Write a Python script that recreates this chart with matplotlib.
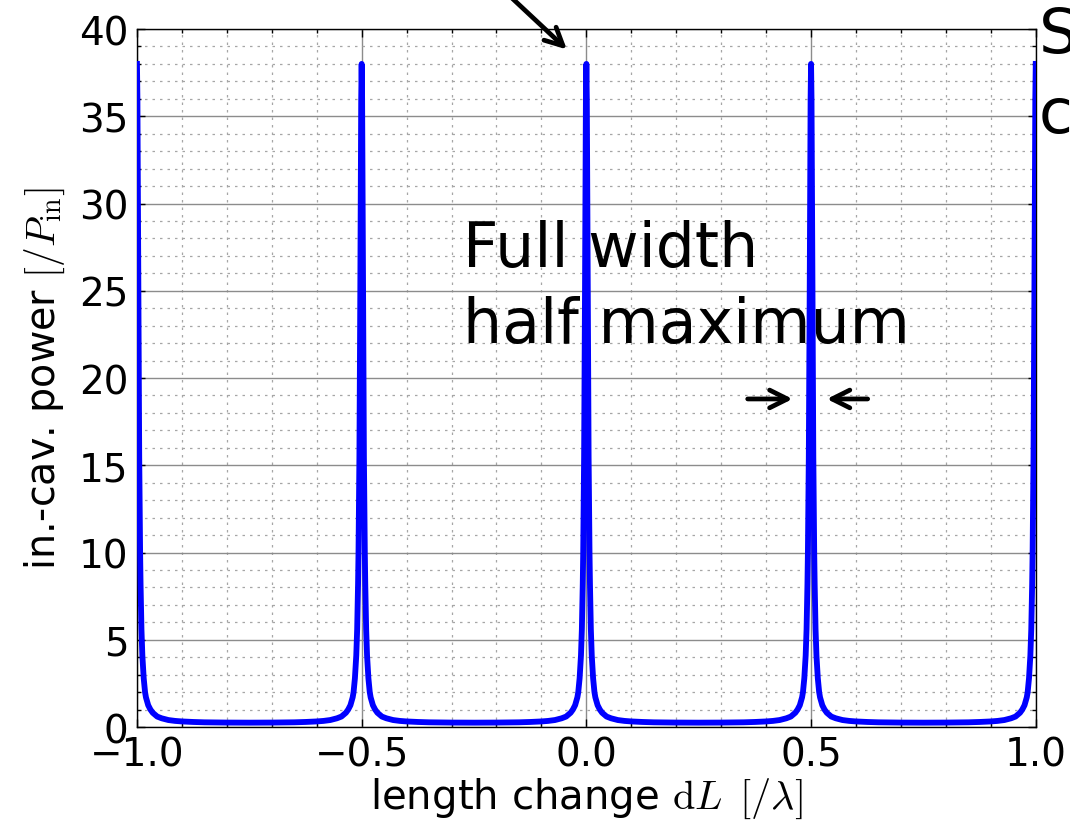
import numpy as np
import matplotlib
matplotlib.use("Agg")
import matplotlib.pyplot as plt
from matplotlib.ticker import MultipleLocator

# resonance positions (in units of lambda)
peak_centers = [-1.0, -0.5, 0.0, 0.5, 1.0]

# shape of one resonance: offset from the peak vs power
profile_offset = [0.000, 0.001, 0.002, 0.003, 0.004, 0.005, 0.006, 0.007,
                  0.008, 0.010, 0.012, 0.015, 0.018, 0.020, 0.025, 0.030,
                  0.035, 0.045, 0.055, 0.070, 0.085, 0.100, 0.125, 0.150,
                  0.200, 0.250]
profile_power = [38.0, 36.0, 31.0, 25.0, 20.0, 15.5, 12.5, 10.0,
                 8.2, 5.6, 4.1, 2.8, 2.0, 1.7, 1.25, 1.0,
                 0.82, 0.6, 0.5, 0.4, 0.35, 0.32, 0.29, 0.27,
                 0.255, 0.25]

xticks = [-1.0, -0.5, 0.0, 0.5, 1.0]
yticks = [0, 5, 10, 15, 20, 25, 30, 35, 40]

plt.rcParams['mathtext.fontset'] = 'cm'

# build the curve from the profile placed at every resonance
off = np.array(profile_offset)
pw = np.array(profile_power)
xs, ys = [], []
for c in peak_centers:
    xs.append(np.concatenate([c - off[::-1], c + off[1:]]))
    ys.append(np.concatenate([pw[::-1], pw[1:]]))
x = np.concatenate(xs)
y = np.concatenate(ys)
x, idx = np.unique(x, return_index=True)
y = y[idx]
keep = (x >= -1.0) & (x <= 1.0)
x, y = x[keep], y[keep]

fig = plt.figure(figsize=(10.70, 8.29), dpi=100)
ax = fig.add_axes([0.128, 0.1218, 0.840, 0.8420])

ax.plot(x, y, color='#0000ff', lw=4.2, zorder=5, solid_joinstyle='round')

ax.set_xlim(-1.0, 1.0)
ax.set_ylim(0, 40)
ax.set_xticks(xticks)
ax.set_yticks(yticks)
ax.xaxis.set_minor_locator(MultipleLocator(0.1))
ax.yaxis.set_minor_locator(MultipleLocator(1))

ax.grid(which='major', color='0.55', lw=1.0, ls='-')
ax.grid(which='minor', color='0.65', lw=0.9, ls=(0, (2, 4)))
ax.set_axisbelow(True)

ax.tick_params(which='both', direction='in', top=True, right=True)
ax.tick_params(which='major', length=6, width=1, labelsize=28, pad=6)
ax.tick_params(which='minor', length=3, width=1)
for s in ax.spines.values():
    s.set_linewidth(1.0)
    s.set_color('k')

ax.set_xlabel(r'length change ${\rm d}L\ \,[/\lambda]$', fontsize=29, labelpad=2)
ax.set_ylabel(r'in.-cav. power $[/P_{\rm in}]$', fontsize=28.5, labelpad=9)

# annotations
ax.text(-0.275, 26.42, 'Full width', fontsize=44.5, va='baseline', ha='left', zorder=3)
ax.text(-0.275, 22.05, 'half maximum', fontsize=44.5, va='baseline', ha='left', zorder=3)
ax.text(1.006, 38.66, 'S', fontsize=44.5, va='baseline', ha='left', clip_on=False)
ax.text(1.006, 34.08, 'c', fontsize=44.5, va='baseline', ha='left', clip_on=False)

arrow = dict(arrowstyle='->', lw=3.4, color='k', mutation_scale=32, shrinkA=0, shrinkB=0)
ax.annotate('', xy=(0.459, 18.8), xytext=(0.359, 18.8), arrowprops=arrow)
ax.annotate('', xy=(0.535, 18.8), xytext=(0.626, 18.8), arrowprops=arrow)
ax.annotate('', xy=(-0.0434, 38.83), xytext=(-0.175, 42.0), arrowprops=arrow,
            annotation_clip=False)

fig.savefig('out.png', dpi=100, facecolor='white')
